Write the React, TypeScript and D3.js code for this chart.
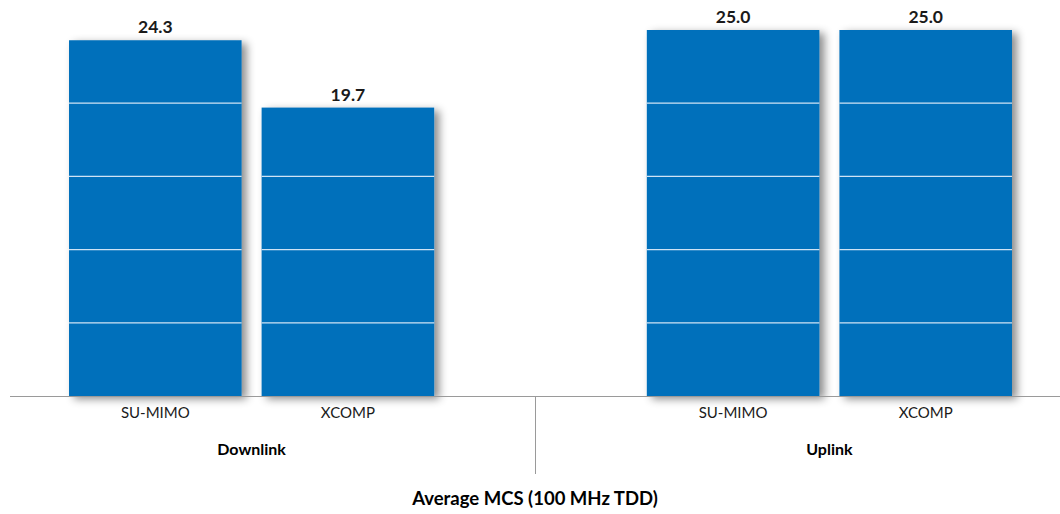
import * as d3 from "d3";
import * as React from "react";

// chart values
const groups = ["Downlink", "Uplink"];
const categories = ["SU-MIMO", "XCOMP"];
const downlinkValues = [24.3, 19.7];
const uplinkValues = [25.0, 25.0];
const gridTicks = [5, 10, 15, 20];
const chartTitle = "Average MCS (100 MHz TDD)";

const W = 1060;
const H = 514;
const baseY = 396;
const barColor = "#0070bb";
const font = "Lato, 'Open Sans', sans-serif";

export default function App() {
  const seriesByGroup = [downlinkValues, uplinkValues];

  // 5 slots: two bars, an empty slot, two bars
  const slotsPerGroup = categories.length + 1;
  const x = d3
    .scaleBand<number>()
    .domain(d3.range(groups.length * slotsPerGroup - 1))
    .range([59, 59 + 5 * 192.6])
    .paddingInner(0.104)
    .paddingOuter(0.052);

  const y = d3.scaleLinear().domain([0, 25]).range([baseY, 30]);

  const bars = groups.flatMap((g, gi) =>
    categories.map((c, ci) => ({
      group: g,
      cat: c,
      value: seriesByGroup[gi][ci],
      slot: gi * slotsPerGroup + ci,
    }))
  );

  const bw = x.bandwidth();
  const groupCenter = (gi: number) => {
    const first = x(gi * slotsPerGroup)!;
    const last = x(gi * slotsPerGroup + categories.length - 1)! + bw;
    return (first + last) / 2;
  };
  const dividerX = 535;

  return (
    <svg
      width={W}
      height={H}
      style={{ position: "absolute", left: 0, top: 0, background: "#fff" }}
      fontFamily={font}
    >
      <defs>
        <filter id="shadow" x="-10%" y="-10%" width="130%" height="130%">
          <feDropShadow
            dx={5}
            dy={3}
            stdDeviation={4}
            floodColor="#000"
            floodOpacity={0.45}
          />
        </filter>
      </defs>

      {bars.map((d, i) => {
        const bx = x(d.slot)!;
        const by = y(d.value);
        return (
          <g key={i}>
            <rect
              x={bx}
              y={by}
              width={bw}
              height={baseY - by}
              fill={barColor}
              filter="url(#shadow)"
            />
            {gridTicks
              .filter((t) => t < d.value)
              .map((t) => (
                <line
                  key={t}
                  x1={bx}
                  x2={bx + bw}
                  y1={y(t)}
                  y2={y(t)}
                  stroke="#cfe3f5"
                  strokeWidth={1.3}
                />
              ))}
            <text
              x={bx + bw / 2}
              y={by - 7}
              textAnchor="middle"
              fontWeight={700}
              fontSize={17.5}
              fill="#1a1a1a"
            >
              {d.value.toFixed(1)}
            </text>
            <text
              x={bx + bw / 2}
              y={418}
              textAnchor="middle"
              fontSize={15}
              fill="#1a1a1a"
            >
              {d.cat}
            </text>
          </g>
        );
      })}

      <line x1={10} x2={W} y1={baseY + 0.5} y2={baseY + 0.5} stroke="#9a9a9a" />
      <line
        x1={dividerX + 0.5}
        x2={dividerX + 0.5}
        y1={baseY}
        y2={474}
        stroke="#9a9a9a"
      />

      {groups.map((g, gi) => (
        <text
          key={g}
          x={groupCenter(gi)}
          y={455}
          textAnchor="middle"
          fontWeight={700}
          fontSize={16}
          fill="#000"
        >
          {g}
        </text>
      ))}

      <text
        x={535}
        y={505}
        textAnchor="middle"
        fontWeight={700}
        fontSize={18.5}
        fill="#000"
      >
        {chartTitle}
      </text>
    </svg>
  );
}
